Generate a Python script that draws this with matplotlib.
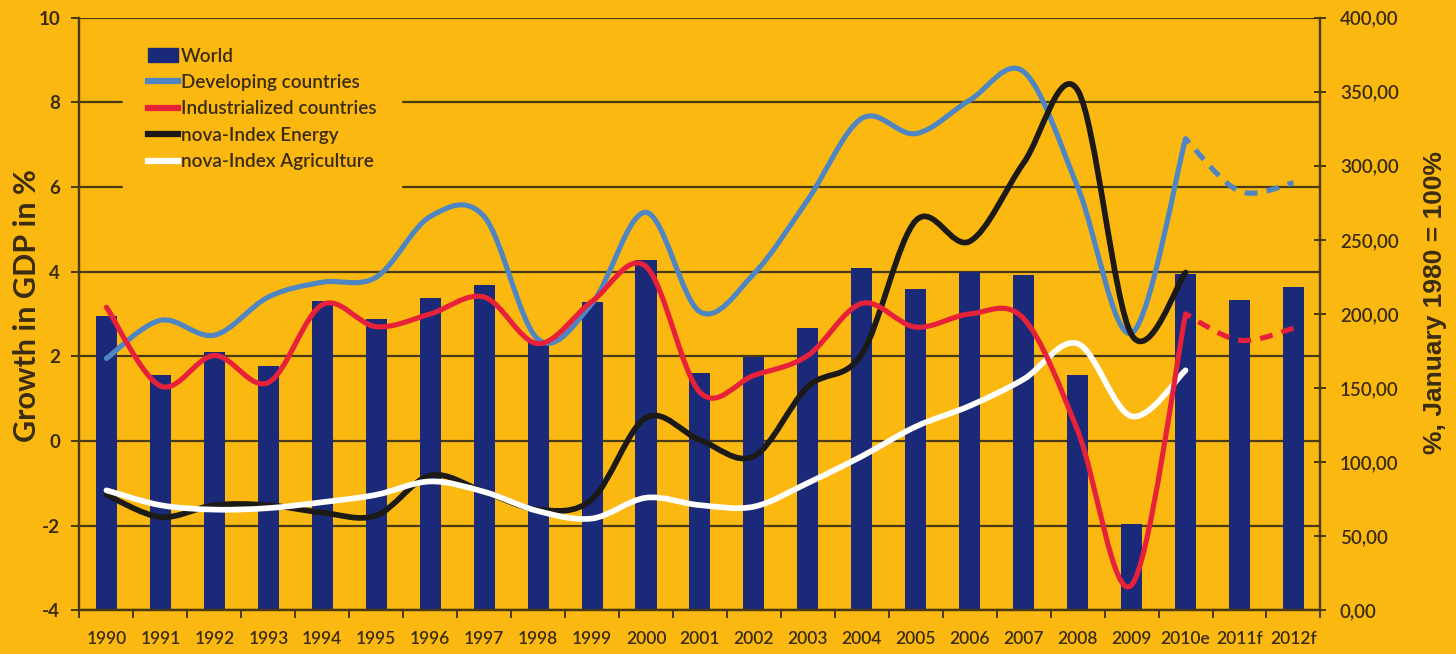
import numpy as np
import matplotlib
matplotlib.use("Agg")
import matplotlib.pyplot as plt
from matplotlib.path import Path
from matplotlib.patches import PathPatch, Patch
from matplotlib.lines import Line2D

# ---- data -------------------------------------------------------------
years = ["1990", "1991", "1992", "1993", "1994", "1995", "1996", "1997",
         "1998", "1999", "2000", "2001", "2002", "2003", "2004", "2005",
         "2006", "2007", "2008", "2009", "2010e", "2011f", "2012f"]

# GDP growth in % (left axis)
world = [2.95, 1.55, 2.1, 1.76, 3.3, 2.88, 3.38, 3.68, 2.37, 3.28, 4.27,
         1.6, 1.98, 2.68, 4.08, 3.58, 4.0, 3.93, 1.55, -1.95, 3.95, 3.32, 3.63]
developing = [1.95, 2.85, 2.5, 3.4, 3.75, 3.87, 5.3, 5.3, 2.4, 3.25, 5.4,
              3.05, 3.95, 5.7, 7.62, 7.26, 8.05, 8.72, 6.0, 2.55, 7.14]
developing_fc = [7.14, 5.9, 6.1]
industrialized = [3.16, 1.3, 2.02, 1.38, 3.22, 2.7, 3.0, 3.4, 2.3, 3.3, 4.12,
                  1.15, 1.55, 2.02, 3.25, 2.69, 3.0, 2.89, 0.25, -3.4, 3.0]
industrialized_fc = [3.0, 2.38, 2.66]

# nova indices, January 1980 = 100 % (right axis)
energy = [78, 63, 71, 71, 66, 64, 91, 80, 68, 75, 130, 115, 104, 151, 173,
          263, 249, 302, 351, 186, 228]
agriculture = [81, 71, 68, 69, 73, 78, 87, 80, 67, 62, 76, 71, 70, 86, 104,
               124, 138, 156, 180, 131, 162]

gdp_ticks = [-4, -2, 0, 2, 4, 6, 8, 10]
index_ticks = [0, 50, 100, 150, 200, 250, 300, 350, 400]

# ---- style ------------------------------------------------------------
BG = "#FBB810"
NAVY = "#1B2A78"
BLUE = "#4E86C4"
RED = "#E8213A"
BLACK = "#1C1A16"
WHITE = "#FFFFFF"
INK = "#3A2C10"
GRID = "#4A3A12"

plt.rcParams["font.family"] = ["Lato", "DejaVu Sans"]


def smooth_path(xs, ys):
    """Cubic Bezier path through the points (spreadsheet-style smoothing)."""
    pts = np.column_stack([xs, ys]).astype(float)
    n = len(pts)
    verts = [pts[0]]
    codes = [Path.MOVETO]
    for i in range(n - 1):
        p0 = pts[i - 1] if i > 0 else pts[i]
        p1, p2 = pts[i], pts[i + 1]
        p3 = pts[i + 2] if i + 2 < n else pts[i + 1]
        verts += [p1 + (p2 - p0) / 6.0, p2 - (p3 - p1) / 6.0, p2]
        codes += [Path.CURVE4] * 3
    return Path(verts, codes)


W, H = 1456, 654
fig = plt.figure(figsize=(W / 100, H / 100), dpi=100, facecolor=BG)
ax = fig.add_axes([0.0546, 0.0667, 0.8523, 0.9064])
ax.set_facecolor(BG)
ax2 = ax.twinx()

x = np.arange(len(years))
ymin = gdp_ticks[0]

# bars rise from the bottom of the value axis
ax.bar(x, np.array(world) - ymin, bottom=ymin, width=0.39, color=NAVY,
       zorder=2)

ax.set_xlim(-0.5, len(years) - 0.5)
ax.set_ylim(gdp_ticks[0], gdp_ticks[-1])
ax2.set_ylim(index_ticks[0], index_ticks[-1])

ax.set_axisbelow(True)
ax.yaxis.grid(True, color=GRID, lw=1.6)


def add_curve(xs, ys, color, lw, trans, dashed=False):
    p = PathPatch(smooth_path(xs, ys), fill=False, edgecolor=color, lw=lw,
                  capstyle="round", joinstyle="round", transform=trans)
    if dashed:
        p.set_linestyle((1.4, (2.5, 1.8)))
        p.set_capstyle("butt")
    ax2.add_patch(p)


n_hist = len(developing)
xh = x[:n_hist]
xf = x[n_hist - 1:]
add_curve(xh, developing, BLUE, 3.7, ax.transData)
add_curve(xf, developing_fc, BLUE, 3.7, ax.transData, dashed=True)
add_curve(xh, energy, BLACK, 4.1, ax2.transData)
add_curve(xh, agriculture, WHITE, 4.1, ax2.transData)
add_curve(xh, industrialized, RED, 3.7, ax.transData)
add_curve(xf, industrialized_fc, RED, 3.7, ax.transData, dashed=True)

# x axis: ticks between categories, labels centred under the bars
ax.set_xticks(np.arange(len(years) + 1) - 0.5)
ax.set_xticklabels([])
ax.set_xticks(x, minor=True)
ax.set_xticklabels(years, minor=True, fontsize=12.5, color=INK,
                   fontweight="semibold")
ax.tick_params(axis="x", which="major", direction="out", length=6, width=1.4,
               color=GRID)
ax.tick_params(axis="x", which="minor", length=0, pad=15)

ax.set_yticks(gdp_ticks)
ax.set_yticklabels([str(t) for t in gdp_ticks], fontsize=13.5, color=INK,
                   fontweight="bold")
ax.tick_params(axis="y", direction="out", length=6, width=1.4, color=GRID,
               pad=8)

ax2.set_yticks(index_ticks)
ax2.set_yticklabels([f"{t},00" for t in index_ticks], fontsize=13.5,
                    color=INK, fontweight="semibold")
ax2.tick_params(axis="y", direction="inout", length=8, width=1.4, color=GRID,
                pad=10)

for a in (ax, ax2):
    a.spines["top"].set_visible(False)
    for side in ("left", "right", "bottom"):
        a.spines[side].set_color(GRID)
        a.spines[side].set_linewidth(1.6)

ax_w = 0.8523 * W
ax.set_ylabel("Growth in GDP in %", fontsize=22, color=INK,
              fontweight="bold", va="center")
ax.yaxis.set_label_coords((27 - 79.5) / ax_w, 0.515)
ax2.set_ylabel("%, January 1980 = 100%", fontsize=19, color=INK,
               fontweight="bold", family=["Liberation Sans", "DejaVu Sans"],
               rotation=90, va="center")
ax2.yaxis.set_label_coords((1435 - 79.5) / ax_w, 0.52)

handles = [
    Patch(facecolor=NAVY, edgecolor=NAVY),
    Line2D([], [], color=BLUE, lw=4.5),
    Line2D([], [], color=RED, lw=4.5),
    Line2D([], [], color=BLACK, lw=4.5),
    Line2D([], [], color=WHITE, lw=4.5),
]
labels = ["World", "Developing countries", "Industrialized countries",
          "nova-Index Energy", "nova-Index Agriculture"]
leg = ax2.legend(handles, labels, loc="upper left",
                 bbox_to_anchor=(123 / W, 1 - 23 / H),
                 bbox_transform=fig.transFigure, frameon=True,
                 facecolor=BG, edgecolor=BG, framealpha=1, fancybox=False,
                 fontsize=13.6, handlelength=1.6, handletextpad=0.15,
                 labelspacing=0.5, borderpad=1.3, borderaxespad=0)
for t in leg.get_texts():
    t.set_color(INK)
    t.set_fontweight("semibold")

fig.savefig("out.png", dpi=100, facecolor=BG)
